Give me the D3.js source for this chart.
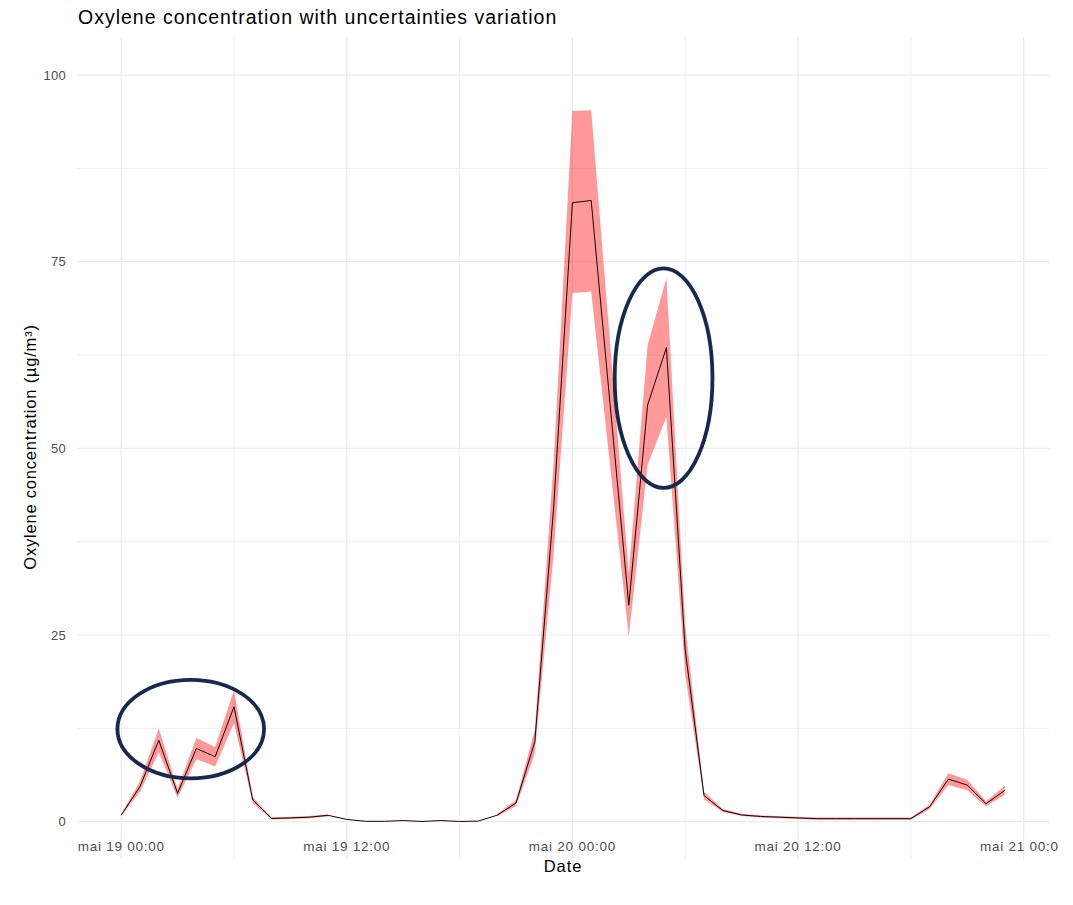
<!DOCTYPE html>
<html>
<head>
<meta charset="utf-8">
<script src="https://cdn.jsdelivr.net/npm/d3@7"></script>
<style>
  html, body { margin: 0; padding: 0; background: #ffffff; }
  svg { display: block; }
</style>
</head>
<body>
<svg id="chart" width="1073" height="905"></svg>
<script>
// ---------- data (hourly, starting mai 19 00:00) ----------
const hours = d3.range(0, 48);
const concentration = [
  0.87, 4.7, 10.9, 3.8, 9.8, 8.7, 15.4, 2.9, 0.43, 0.5, 0.6, 0.85,
  0.3, 0.05, 0.05, 0.15, 0.03, 0.15, 0.03, 0.08, 0.87, 2.5, 10.7, 42.0,
  82.9, 83.2, 56.0, 29.0, 55.8, 63.5, 23.0, 3.5, 1.5, 0.9, 0.7, 0.6,
  0.5, 0.4, 0.4, 0.4, 0.4, 0.4, 0.4, 2.0, 5.7, 4.9, 2.4, 4.2
];
const lowerBound = [
  0.72, 4.0, 9.3, 3.2, 8.4, 7.4, 13.2, 2.5, 0.3, 0.35, 0.45, 0.7,
  null, null, null, null, null, null, null, null, 0.7, 2.1, 9.1, 35.9,
  70.8, 71.0, 47.8, 24.8, 47.8, 54.2, 19.7, 3.0, 1.3, 0.75, 0.55, 0.45,
  0.35, 0.25, 0.25, 0.25, 0.25, 0.25, 0.25, 1.7, 4.9, 4.2, 2.05, 3.6
];
const upperBound = [
  1.02, 5.4, 12.5, 4.4, 11.2, 10.0, 17.6, 3.3, 0.6, 0.65, 0.75, 1.0,
  null, null, null, null, null, null, null, null, 1.05, 2.9, 12.3, 48.1,
  95.2, 95.3, 64.2, 33.2, 63.8, 72.8, 26.3, 4.0, 1.7, 1.05, 0.85, 0.75,
  0.65, 0.55, 0.55, 0.55, 0.55, 0.55, 0.55, 2.3, 6.5, 5.6, 2.75, 4.8
];
const yTicks = [0, 25, 50, 75, 100];
const yMinorTicks = [12.5, 37.5, 62.5, 87.5];
const xTickHours = [0, 12, 24, 36, 48];
const xMinorHours = [6, 18, 30, 42];
const xTickLabels = ["mai 19 00:00", "mai 19 12:00", "mai 20 00:00", "mai 20 12:00", "mai 21 00:00"];
// highlighted regions (centre hour, centre value, half-width in hours, half-height in units)
const highlightHours = [3.7, 28.85];
const highlightValues = [12.4, 59.4];
const highlightHalfWidthHours = [3.9, 2.6];
const highlightHalfHeightValues = [6.6, 14.7];

const titleText = "Oxylene concentration with uncertainties variation";
const xTitle = "Date";
const yTitle = "Oxylene concentration (µg/m³)";

// ---------- layout ----------
const start = Date.UTC(2024, 4, 19, 0, 0);
const toDate = h => new Date(start + h * 3600 * 1000);
const data = hours.map((h, i) => ({
  date: toDate(h), v: concentration[i], lo: lowerBound[i], hi: upperBound[i]
}));

const panel = { left: 77, right: 1049, top: 37, bottom: 859 };
const svg = d3.select("#chart");

const xExt = d3.extent(data, d => d.date);
const span = xExt[1] - xExt[0];
const x = d3.scaleUtc()
  .domain([new Date(+xExt[0] - span * 0.05), new Date(+xExt[1] + span * 0.05)])
  .range([panel.left, panel.right]);
const y = d3.scaleLinear().domain([-5.0, 105.1]).range([panel.bottom, panel.top]);

// ---------- grid ----------
const grid = svg.append("g");
grid.selectAll(".ymin").data(yMinorTicks).join("line")
  .attr("x1", panel.left).attr("x2", panel.right)
  .attr("y1", d => y(d)).attr("y2", d => y(d))
  .attr("stroke", "#f0f0f0").attr("stroke-width", 1);
grid.selectAll(".xmin").data(xMinorHours).join("line")
  .attr("x1", d => x(toDate(d))).attr("x2", d => x(toDate(d)))
  .attr("y1", panel.top).attr("y2", panel.bottom)
  .attr("stroke", "#f0f0f0").attr("stroke-width", 1);
grid.selectAll(".ymaj").data(yTicks).join("line")
  .attr("x1", panel.left).attr("x2", panel.right)
  .attr("y1", d => y(d)).attr("y2", d => y(d))
  .attr("stroke", "#ebebeb").attr("stroke-width", 1.2);
grid.selectAll(".xmaj").data(xTickHours).join("line")
  .attr("x1", d => x(toDate(d))).attr("x2", d => x(toDate(d)))
  .attr("y1", panel.top).attr("y2", panel.bottom)
  .attr("stroke", "#ebebeb").attr("stroke-width", 1.2);

// ---------- ribbon + line ----------
const area = d3.area()
  .defined(d => d.lo != null && d.hi != null)
  .x(d => x(d.date)).y0(d => y(d.lo)).y1(d => y(d.hi));
svg.append("path").datum(data)
  .attr("d", area)
  .attr("fill", "#ff0000").attr("fill-opacity", 0.4);

const line = d3.line().x(d => x(d.date)).y(d => y(d.v));
svg.append("path").datum(data)
  .attr("d", line)
  .attr("fill", "none").attr("stroke", "#1a0000").attr("stroke-width", 1)
  .attr("stroke-linejoin", "round");

// ---------- highlight ellipses ----------
svg.selectAll(".hl").data(highlightHours).join("ellipse")
  .attr("cx", (d, i) => x(toDate(d)))
  .attr("cy", (d, i) => y(highlightValues[i]))
  .attr("rx", (d, i) => x(toDate(d + highlightHalfWidthHours[i])) - x(toDate(d)))
  .attr("ry", (d, i) => y(0) - y(highlightHalfHeightValues[i]))
  .attr("fill", "none").attr("stroke", "#172a4e").attr("stroke-width", 3.8);

// ---------- axes text ----------
const font = "'Liberation Sans', Arial, sans-serif";
svg.append("defs").append("clipPath").attr("id", "imgclip")
  .append("rect").attr("x", 0).attr("y", 0).attr("width", 1058).attr("height", 905);

svg.append("g").selectAll("text").data(yTicks).join("text")
  .attr("x", 66).attr("y", d => y(d)).attr("dy", "0.35em")
  .attr("text-anchor", "end").attr("font-family", font).attr("font-size", 13)
  .attr("letter-spacing", 0.3)
  .attr("fill", "#4d4d4d").text(d => d);

svg.append("g").attr("clip-path", "url(#imgclip)")
  .selectAll("text").data(xTickHours).join("text")
  .attr("x", d => x(toDate(d))).attr("y", 851)
  .attr("text-anchor", "middle").attr("font-family", font).attr("font-size", 13.5)
  .attr("letter-spacing", 0.75)
  .attr("fill", "#4d4d4d").text((d, i) => xTickLabels[i]);

svg.append("text").attr("x", (panel.left + panel.right) / 2).attr("y", 872)
  .attr("text-anchor", "middle").attr("font-family", font).attr("font-size", 16.5)
  .attr("letter-spacing", 0.9)
  .attr("fill", "#000").text(xTitle);

svg.append("text")
  .attr("transform", `translate(36, 447) rotate(-90)`)
  .attr("text-anchor", "middle").attr("font-family", font).attr("font-size", 16.5)
  .attr("letter-spacing", 0.8)
  .attr("fill", "#000").text(yTitle);

svg.append("text").attr("x", 78).attr("y", 24)
  .attr("font-family", font).attr("font-size", 19.5)
  .attr("letter-spacing", 1.0)
  .attr("fill", "#000").text(titleText);
</script>
</body>
</html>
